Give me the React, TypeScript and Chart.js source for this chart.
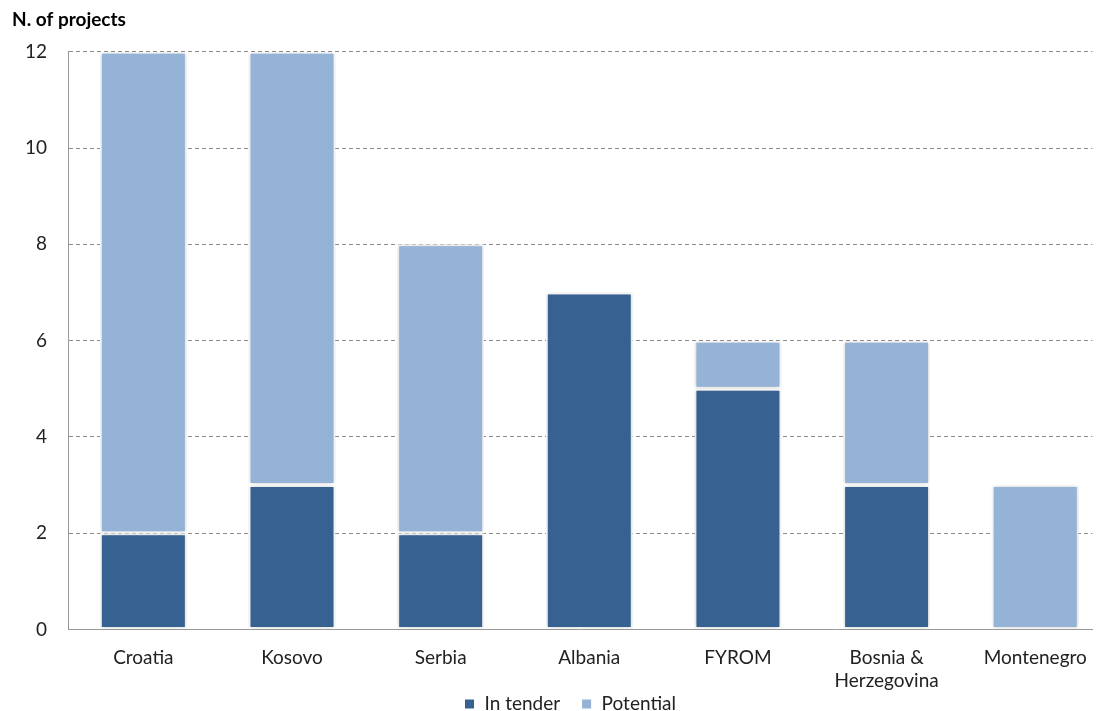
import React, { useEffect, useRef } from "react";
import { Chart, registerables } from "chart.js";

Chart.register(...registerables);

const categories: (string | string[])[] = [
  "Croatia",
  "Kosovo",
  "Serbia",
  "Albania",
  "FYROM",
  ["Bosnia &", "Herzegovina"],
  "Montenegro",
];
const inTender = [2, 3, 2, 7, 5, 3, 0];
const potential = [10, 9, 6, 0, 1, 3, 3];
const yTicks = [0, 2, 4, 6, 8, 10, 12];

const FONT = "Lato, 'Open Sans', 'DejaVu Sans', sans-serif";
const LEGEND_PAD = 21;
const LEGEND_FONT = 19;
const LEGEND_CENTER_Y = 704;
const LEGEND_SHIFT_X = 14;

const shadowPlugin = {
  id: "barShadow",
  beforeDatasetsDraw(chart: any) {
    const ctx = chart.ctx;
    ctx.save();
    ctx.shadowColor = "rgba(0,0,0,0.22)";
    ctx.shadowBlur = 4;
    ctx.shadowOffsetX = 0;
    ctx.shadowOffsetY = 0;
  },
  afterDatasetsDraw(chart: any) {
    chart.ctx.restore();
  },
};

// move the legend row so it sits just under the two-line axis labels
const legendShift = {
  id: "legendShift",
  afterLayout(chart: any) {
    const lg = chart.legend;
    if (!lg) return;
    const dy = LEGEND_CENTER_Y - (lg.top + LEGEND_PAD + LEGEND_FONT / 2);
    lg.top += dy;
    lg.bottom += dy;
    lg.left += LEGEND_SHIFT_X;
    lg.right += LEGEND_SHIFT_X;
  },
};

export default function App() {
  const ref = useRef<HTMLCanvasElement | null>(null);
  useEffect(() => {
    document.body.style.margin = "0";
    const chart = new Chart(ref.current!, {
      type: "bar",
      data: {
        datasets: [
          {
            label: "In tender",
            data: inTender.map((v, i) => ({ x: i, y: v })),
            backgroundColor: "#366190",
            borderColor: "#ffffff",
            borderWidth: 2,
            borderSkipped: false,
            barPercentage: 0.585,
            categoryPercentage: 1,
          },
          {
            label: "Potential",
            data: potential.map((v, i) => ({ x: i, y: v })),
            backgroundColor: "#95b3d7",
            borderColor: "#ffffff",
            borderWidth: 2,
            borderSkipped: false,
            barPercentage: 0.585,
            categoryPercentage: 1,
          },
        ],
      },
      plugins: [shadowPlugin, legendShift],
      options: {
        animation: false,
        responsive: false,
        maintainAspectRatio: false,
        layout: { padding: { left: 12, right: 3, top: 0, bottom: -32.5 } },
        plugins: {
          title: {
            display: true,
            text: "N. of projects",
            align: "start",
            color: "#000",
            font: { family: FONT, size: 19, weight: "bold" },
            padding: { top: 8.5, bottom: 20.5 },
          },
          legend: {
            position: "bottom",
            labels: {
              boxWidth: 11,
              boxHeight: 11,
              color: "#222",
              font: { family: FONT, size: LEGEND_FONT },
              padding: LEGEND_PAD,
            },
          },
          tooltip: { enabled: false },
        },
        scales: {
          x: {
            type: "linear",
            stacked: true,
            offset: false,
            min: -0.507,
            max: 6.384,
            afterBuildTicks(axis: any) {
              axis.ticks = categories.map((_, i) => ({ value: i }));
            },
            afterFit(axis: any) {
              axis.height = 64;
            },
            grid: { display: false, drawTicks: false },
            border: { display: true, color: "#999" },
            ticks: {
              color: "#222",
              font: { family: FONT, size: 19, lineHeight: 1.25 },
              padding: 16,
              maxRotation: 0,
              autoSkip: false,
              callback: (v: any) => categories[Math.round(v)],
            },
          },
          y: {
            stacked: true,
            min: 0,
            max: 12,
            afterBuildTicks(axis: any) {
              axis.ticks = yTicks.map((v) => ({ value: v }));
            },
            afterFit(axis: any) {
              axis.width = 56;
            },
            grid: {
              color: (c: any) => (c.tick && c.tick.value === 0 ? "rgba(0,0,0,0)" : "#8c8c8c"),
              drawTicks: false,
            },
            border: { display: true, color: "#999", dash: [4, 3] },
            ticks: {
              color: "#222",
              font: { family: FONT, size: 19 },
              padding: 21,
            },
          },
        },
      },
    } as any);
    return () => chart.destroy();
  }, []);
  return (
    <div style={{ width: 1103, height: 711 }}>
      <canvas
        ref={ref}
        width={1103}
        height={711}
        style={{ width: 1103, height: 711, display: "block" }}
      />
    </div>
  );
}
